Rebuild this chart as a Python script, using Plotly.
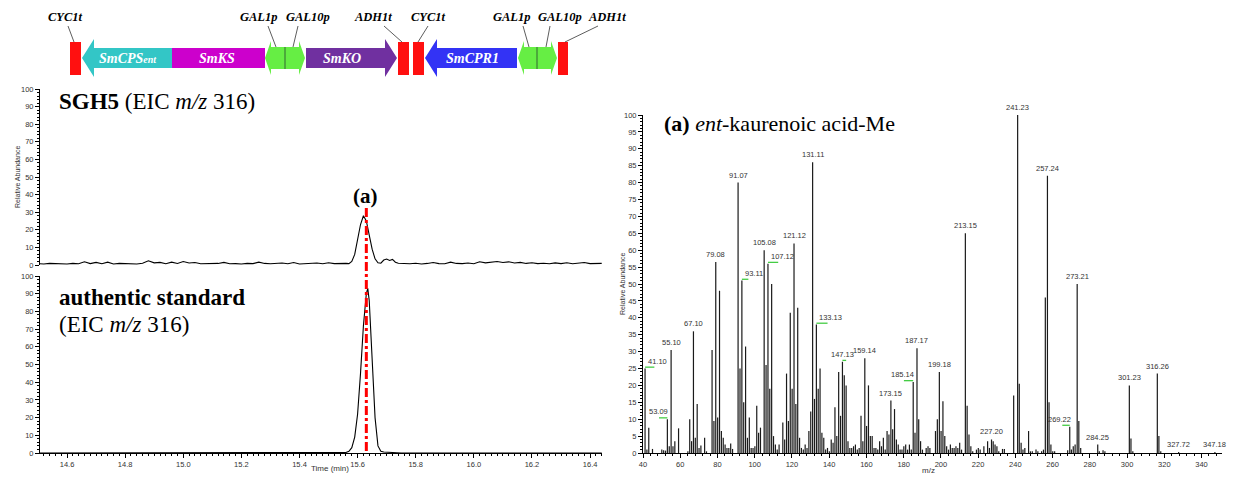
import plotly.graph_objects as go

W, H = 1235, 477
def px(x): return x / W
def py(y): return 1 - y / H

# ---------------- chromatogram data (EIC m/z 316) ----------------
t_sample = [14.50,14.52,14.54,14.56,14.58,14.60,14.62,14.64,14.66,14.68,14.70,14.72,14.74,14.76,14.78,
            14.80,14.82,14.84,14.86,14.88,14.90,14.92,14.94,14.96,14.98,15.00,15.02,15.04,15.06,15.08,
            15.10,15.12,15.14,15.16,15.18,15.20,15.22,15.24,15.26,15.28,15.30,15.32,15.34,15.36,15.38,
            15.40,15.42,15.44,15.46,15.48,15.50,15.52,15.54,15.56,
            15.57,15.58,15.59,15.60,15.61,15.62,15.63,15.64,15.65,15.66,15.67,15.68,15.69,15.70,15.71,
            15.72,15.73,15.74,
            15.76,15.78,15.80,15.82,15.84,15.86,15.88,15.90,15.92,15.94,15.96,15.98,16.00,16.02,16.04,
            16.06,16.08,16.10,16.12,16.14,16.16,16.18,16.20,16.22,16.24,16.26,16.28,16.30,16.32,16.34,
            16.36,16.38,16.40,16.42,16.44]
i_sample = [0.8,0.6,0.9,0.7,0.8,0.6,0.9,0.7,1.8,0.8,1.5,0.7,1.6,0.6,0.9,
            0.7,0.8,0.6,1.0,2.4,1.2,1.5,0.7,1.6,0.9,2.0,1.1,1.4,0.7,0.8,
            0.6,0.9,1.5,0.7,0.8,0.6,0.9,0.8,1.6,0.9,0.7,0.8,1.1,0.7,1.4,
            0.6,0.9,0.8,1.1,0.7,1.3,0.8,1.0,0.9,
            0.8,2.0,6.0,14.0,23.0,28.0,25.0,17.0,9.0,3.5,1.3,1.0,2.8,3.4,2.6,
            3.2,1.6,1.0,
            0.8,0.7,1.0,0.6,0.9,1.4,0.8,0.7,1.6,0.9,0.8,1.1,0.7,1.8,1.2,
            1.6,2.0,1.4,1.8,1.1,1.5,0.9,1.3,0.8,1.0,0.7,1.2,0.8,1.3,0.7,
            0.9,1.4,0.8,1.0,0.9]

t_std = [14.50,15.55,15.56,15.57,15.58,15.59,15.60,15.61,15.62,15.63,15.635,15.64,15.65,15.66,
         15.67,15.68,15.69,15.70,15.71,15.72,15.73,15.75,16.44]
i_std = [0.0,0.0,0.3,1.0,3.0,9.0,22.0,45.0,72.0,90.0,93.0,86.0,55.0,20.0,
         4.0,1.0,0.6,0.5,0.7,0.5,0.2,0.0,0.0]

peak_rt = 15.63

# ---------------- mass spectrum data ----------------
ms_mz = [41.10,42.1,43.1,45.1,50.1,51.1,52.1,53.09,54.1,55.10,56.1,57.1,59.1,64.1,65.1,66.1,67.10,68.1,
         69.1,70.1,71.1,73.1,74.1,77.1,78.1,79.08,80.1,81.1,82.1,83.1,84.1,85.1,86.1,87.1,88.1,
         91.07,92.1,93.11,94.1,95.1,96.1,97.1,98.1,99.1,100.1,101.1,102.1,103.1,105.08,106.1,107.12,
         108.1,109.1,110.1,111.1,112.1,113.1,115.1,116.1,117.1,118.1,119.1,120.1,121.12,122.1,123.1,
         124.1,125.1,126.1,127.1,128.1,129.1,130.1,131.11,132.1,133.13,134.1,135.1,136.1,137.1,138.1,
         139.1,140.1,141.1,142.1,143.1,144.1,145.1,146.1,147.13,148.1,149.1,150.1,151.1,152.1,153.1,
         154.1,155.1,156.1,157.1,158.1,159.14,160.1,161.1,162.1,163.1,164.1,165.1,166.1,167.1,168.1,
         169.1,170.1,171.1,172.1,173.15,174.1,175.1,176.1,177.1,178.1,179.1,180.1,181.1,182.1,183.1,
         184.1,185.14,186.1,187.17,188.1,189.1,190.1,192.1,193.1,194.1,197.1,198.1,199.18,200.1,201.1,
         202.1,203.1,204.1,205.1,206.1,207.1,208.1,209.1,210.1,211.1,213.15,214.1,215.1,216.1,217.1,
         219.1,220.1,221.1,223.1,225.1,226.1,227.20,228.1,229.1,230.1,231.1,233.1,234.1,239.1,241.23,
         242.1,243.1,244.1,245.1,247.1,248.1,249.1,251.1,252.1,254.1,255.1,256.1,257.24,258.1,259.1,
         260.1,261.1,268.1,269.22,270.1,271.1,272.1,273.21,274.1,275.1,284.25,285.1,287.1,288.1,
         301.23,302.1,303.1,316.26,317.1,318.1,327.72,347.18]
ms_int = [25,1,7.5,1.2,1,0.8,0.7,10,2,30.5,2,3.5,7.3,0.5,10,3.5,36,4.5,
          14.5,1.5,2.2,4.5,0.5,30.5,9.5,56.5,10.5,48,6.5,4.5,2.5,1.5,1.5,2.8,1.2,
          80,25,51,15,31.5,4.5,10.5,1.5,1.5,2,14,6,7.5,60,26,56,
          19,50,5,2.5,1,2.5,9,4,23.5,9.5,41.5,19,62,14.5,43,
          4.5,1.5,1,2.5,1.5,6.5,12.3,86,16,38,19,25,6,4.5,1,
          1.5,0.5,4,3,13.5,5,24,11,27,23,20,3.5,1.5,1.5,2,
          2.5,1,1.5,11,3.5,28,8,20,5,5,1.5,1.5,1,3.5,2,
          4.5,1,6.5,5.5,15.5,7,13,4,2.5,1,1,2,2.5,1,2.5,
          1,21,6,31,10,3.5,1,1.5,2,1.5,6.5,10,24,6.5,15.3,
          5,2,1,2.5,1.5,1.5,2,1.5,3,1,65,14,5.5,2,0.5,
          1,1.5,1,2,3.5,1.5,4,3.5,2.5,2,0.5,1.2,1.2,17,100,
          20.5,3,1,1.5,6.5,0.5,0.5,1,0.5,0.5,1,46,82,15,2.5,
          0.5,0.5,0.8,7.8,1,2,2.5,50,9.5,1.5,2.5,0.5,0.8,0.5,
          20,4.3,0.5,23.5,5,0.5,0.3,0.3]

# labelled peaks: m/z, label placement ('c' centred above, 'l' label to the right, 'r' label to the left)
lab_mz = [41.10,53.09,55.10,67.10,79.08,91.07,93.11,105.08,107.12,121.12,131.11,133.13,147.13,159.14,
          173.15,185.14,187.17,199.18,213.15,227.20,241.23,257.24,269.22,273.21,284.25,301.23,316.26,
          327.72,347.18]
lab_pos = ['l','r','c','c','c','c','l','c','l','c','c','l','c','c',
           'c','r','c','c','c','c','c','c','r','c','c','c','c','c','c']
# green tick marks: m/z and extent (negative = to the left)
green_mz = [41.10,53.09,93.11,107.12,133.13,147.13,185.14,269.22]
green_len = [5.0,-4.5,3.5,5.5,6.0,2.0,-5.0,-4.0]

fig = go.Figure()

fig.add_trace(go.Scatter(x=t_sample, y=i_sample, xaxis='x2', yaxis='y2', mode='lines',
                         line=dict(color='black', width=1.1), showlegend=False, hoverinfo='skip'))
fig.add_trace(go.Scatter(x=t_std, y=i_std, xaxis='x', yaxis='y', mode='lines',
                         line=dict(color='black', width=1.1), showlegend=False, hoverinfo='skip'))

xs, ys = [], []
for m, v in zip(ms_mz, ms_int):
    xs += [m, m, None]
    ys += [0, v, None]
fig.add_trace(go.Scatter(x=xs, y=ys, xaxis='x3', yaxis='y3', mode='lines',
                         line=dict(color='#1a1a1a', width=1.2), showlegend=False, hoverinfo='skip'))

tickfont = dict(family='Liberation Sans, Arial, sans-serif', size=7.5, color='#333')
ax_common = dict(showgrid=False, zeroline=False, showline=True, linecolor='black', linewidth=1,
                 ticks='outside', ticklen=4, tickcolor='black', tickwidth=1, tickfont=tickfont,
                 automargin=False)

shapes = []
annotations = []

fig.update_layout(
    width=W, height=H, margin=dict(l=0, r=0, t=0, b=0),
    paper_bgcolor='white', plot_bgcolor='white', showlegend=False,
    xaxis=dict(domain=[px(40), px(602)], range=[14.507, 16.441], anchor='y', tick0=14.6, dtick=0.2,
               tickformat='.1f', minor=dict(dtick=0.02, ticklen=2, ticks='outside', tickcolor='black'),
               **ax_common),
    yaxis=dict(domain=[py(453), py(276)], range=[0, 100], anchor='x', dtick=10,
               minor=dict(dtick=2, ticklen=2, ticks='outside', tickcolor='black'), **ax_common),
    xaxis2=dict(domain=[px(40), px(602)], range=[14.507, 16.441], anchor='y2', showticklabels=False,
                showline=False, ticks='', showgrid=False, zeroline=False),
    yaxis2=dict(domain=[py(265), py(89)], range=[0, 100], anchor='x2', dtick=10,
                minor=dict(dtick=2, ticklen=2, ticks='outside', tickcolor='black'), **ax_common),
    xaxis3=dict(domain=[px(643), px(1222)], range=[40, 351], anchor='y3', tick0=40, dtick=20,
                minor=dict(dtick=4, ticklen=2, ticks='outside', tickcolor='black'), **ax_common),
    yaxis3=dict(domain=[py(453), py(115)], range=[0, 100], anchor='x3', dtick=5,
                minor=dict(dtick=1, ticklen=2, ticks='outside', tickcolor='black'), **ax_common),
)

def note(x, y, text, size, family, color='black', xanchor='center', yanchor='middle', **kw):
    d = dict(x=x, y=y, xref='paper', yref='paper', text=text, showarrow=False,
             xanchor=xanchor, yanchor=yanchor, font=dict(family=family, size=size, color=color))
    d.update(kw)
    return d

serif = 'Liberation Serif, Times New Roman, serif'
sans = 'Liberation Sans, Arial, sans-serif'

# red dash-dot retention time marker
shapes.append(dict(type='line', xref='x', yref='paper', x0=peak_rt, x1=peak_rt, y0=py(451), y1=py(207),
                   line=dict(color='#FF0000', width=3, dash='dashdot')))
annotations.append(dict(x=peak_rt, y=py(196), xref='x', yref='paper', text='<b>(a)</b>', showarrow=False,
                        xanchor='center', yanchor='middle', xshift=-1,
                        font=dict(family=serif, size=21, color='black')))

annotations += [
    note(px(57), py(102), '<b>SGH5</b> (EIC <i>m/z</i> 316)', 23, serif, xanchor='left'),
    note(px(57), py(297), '<b>authentic standard</b>', 23, serif, xanchor='left'),
    note(px(57), py(324), '(EIC <i>m/z</i> 316)', 23, serif, xanchor='left'),
    note(px(662), py(124), '<b>(a)</b> <i>ent</i>-kaurenoic acid-Me', 22, serif, xanchor='left'),
    note(px(18), py(177), 'Relative Abundance', 7, sans, color='#333', textangle=-90),
    note(px(622), py(284), 'Relative Abundance', 7, sans, color='#333', textangle=-90),
    note(px(330), py(468), 'Time (min)', 8, sans, color='#333'),
    note(px(928), py(470), 'm/z', 8, sans, color='#333'),
]

# peak labels
lookup = dict(zip(ms_mz, ms_int))
for m, pos in zip(lab_mz, lab_pos):
    v = lookup[m]
    a = dict(x=m, y=v, xref='x3', yref='y3', text=f'{m:.2f}', showarrow=False, yanchor='bottom',
             font=dict(family=sans, size=7.5, color='#333'), yshift=1)
    if pos == 'c':
        a['xanchor'] = 'center'
    elif pos == 'l':
        a['xanchor'] = 'left'; a['xshift'] = 1
    else:
        a['xanchor'] = 'right'; a['xshift'] = 3
    annotations.append(a)
for m, L in zip(green_mz, green_len):
    v = lookup[m]
    shapes.append(dict(type='line', xref='x3', yref='y3', x0=m, x1=m + L, y0=v + 0.4, y1=v + 0.4,
                       line=dict(color='#44CC44', width=1.3)))

# ---------------- gene cassette diagram ----------------
def path(points):
    return 'M ' + ' L '.join(f'{px(x):.5f},{py(y):.5f}' for x, y in points) + ' Z'

def arrow_left(tip, hb, end, color):
    pts = [(tip, 58), (hb, 39), (hb, 48), (end, 48), (end, 68), (hb, 68), (hb, 77)]
    return dict(type='path', path=path(pts), xref='paper', yref='paper', fillcolor=color, line=dict(width=0))

def arrow_right(start, hb, tip, color):
    pts = [(start, 48), (hb, 48), (hb, 39), (tip, 58), (hb, 77), (hb, 68), (start, 68)]
    return dict(type='path', path=path(pts), xref='paper', yref='paper', fillcolor=color, line=dict(width=0))

def rect(x0, x1, color, y0=48, y1=68):
    return dict(type='rect', xref='paper', yref='paper', x0=px(x0), x1=px(x1), y0=py(y1), y1=py(y0),
                fillcolor=color, line=dict(width=0))

def gal(x0, xm, x1):
    pts = [(x0, 58), (x0 + 6, 41), (x0 + 6, 47), (x1 - 6, 47), (x1 - 6, 41), (x1, 58),
           (x1 - 6, 75), (x1 - 6, 69), (x0 + 6, 69), (x0 + 6, 75)]
    return [dict(type='path', path=path(pts), xref='paper', yref='paper', fillcolor='#66EE44',
                 line=dict(width=0)),
            dict(type='line', xref='paper', yref='paper', x0=px(xm), x1=px(xm), y0=py(69), y1=py(47),
                 line=dict(color='#336633', width=1))]

red = '#FF1010'
shapes.append(rect(70, 81, red, 42, 75))
shapes.append(arrow_left(82, 94, 172, '#33C6C6'))
shapes.append(rect(172, 265, '#CC00CC'))
shapes += gal(265, 285, 305)
shapes.append(arrow_right(306, 385, 397, '#7030A0'))
shapes.append(rect(398, 409, red, 42, 75))
shapes.append(rect(413, 424, red, 42, 75))
shapes.append(arrow_left(425, 437, 517, '#3333F5'))
shapes += gal(518, 537, 557)
shapes.append(rect(558, 568, red, 42, 75))

gene_labels = [('SmCPS<span style="font-size:10px">ent</span>', 128), ('SmKS', 217),
               ('SmKO', 342), ('SmCPR1', 472)]
for txt, x in gene_labels:
    annotations.append(note(px(x), py(58), f'<b><i>{txt}</i></b>', 14, serif, color='white'))

part_labels = [('CYC1t', 65, (68, 26), (74, 42)), ('GAL1p', 259, (268, 26), (276, 47)),
               ('GAL10p', 308, (298, 26), (293, 47)), ('ADH1t', 373, (384, 26), (402, 42)),
               ('CYC1t', 428, (428, 26), (418, 42)), ('GAL1p', 512, (523, 26), (529, 47)),
               ('GAL10p', 560, (550, 26), (546, 47)), ('ADH1t', 607, (598, 26), (565, 42))]
for txt, x, p0, p1 in part_labels:
    annotations.append(note(px(x), py(17), f'<b><i>{txt}</i></b>', 12.5, serif))
    shapes.append(dict(type='line', xref='paper', yref='paper', x0=px(p0[0]), y0=py(p0[1]),
                       x1=px(p1[0]), y1=py(p1[1]), line=dict(color='#333', width=0.8)))

fig.update_layout(shapes=shapes, annotations=annotations)

fig.write_html('out.html', config={'displayModeBar': False},
               post_script="document.body.style.margin='0';")
